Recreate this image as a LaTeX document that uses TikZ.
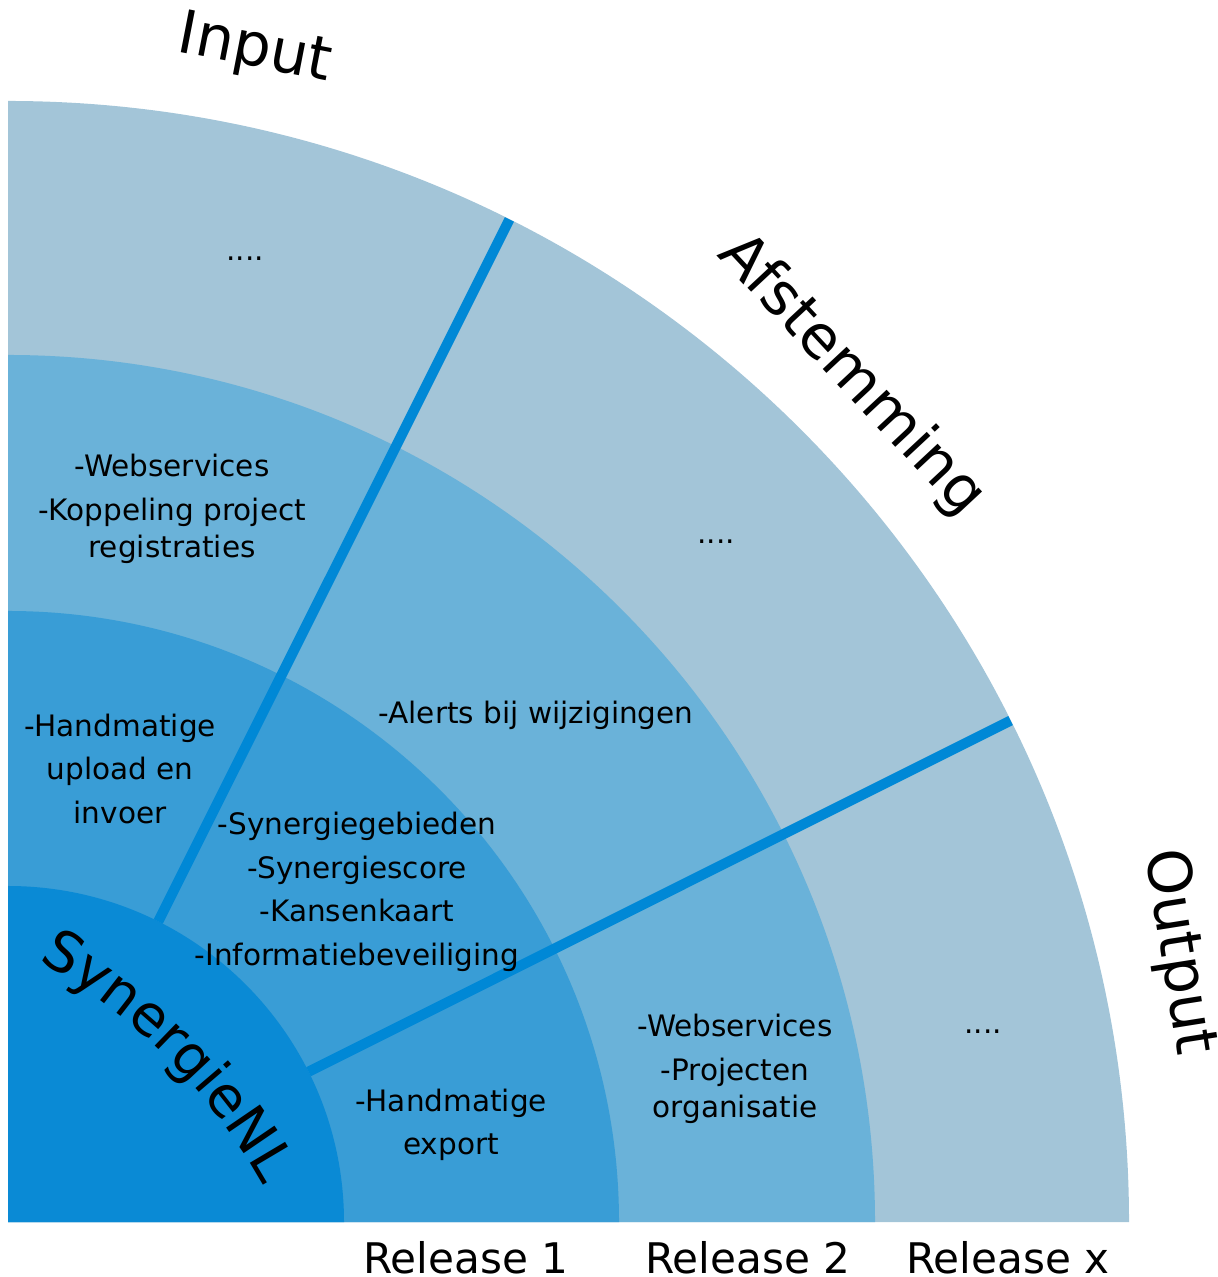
\documentclass[tikz,border=0pt]{standalone}
\usepackage{fontspec}
\setmainfont{DejaVu Sans}
\usepackage{tikz}
\usetikzlibrary{decorations.text}
\definecolor{ringA}{HTML}{0A8AD5}
\definecolor{ringB}{HTML}{399DD6}
\definecolor{ringC}{HTML}{6AB2D9}
\definecolor{ringD}{HTML}{A3C5D8}
\definecolor{lineblue}{HTML}{0088D6}
\tikzset{
  item/.style={align=center, inner sep=0pt, font=\fontsize{8.4}{12.4}\selectfont},
  dots/.style={anchor=base, inner sep=0pt, font=\fontsize{8.4}{10}\selectfont},
  title/.style={inner sep=0pt, font=\fontsize{17}{17}\selectfont},
  release/.style={anchor=base, inner sep=0pt, font=\fontsize{12}{12}\selectfont},
  divider/.style={draw=lineblue, line width=2.9pt},
}

\begin{document}
\begin{tikzpicture}
            \useasboundingbox (-0.08,-0.55) rectangle (12.09,12.22);
            \foreach \r/\c in {11.21/ringD,8.67/ringC,6.11/ringB,3.36/ringA}
            {
            \fill[\c] (0,0) -- (\r,0) arc (0:90:\r) -- cycle;
            }
            \foreach \a in {26.57,63.43}
            {
            \draw[divider] (\a:3.36) -- (\a:11.21);
            }

            % input
            \node[item] (inA) at (1.12,4.53) {-Handmatige\\upload en\\invoer};
            \node[item] (inB) at (1.64,7.13) {-Webservices\\-Koppeling project\\[-1.8pt]registraties};
            \node[dots] (inC) at (2.37,9.61) {....};

            % afstemming
            \node[item] (midA) at (3.49,3.30) {-Synergiegebieden\\-Synergiescore\\-Kansenkaart\\-Informatiebeveiliging};
            \node[item] (midB) at (5.28,5.07) {-Alerts bij wijzigingen};
            \node[dots] (midC) at (7.08,6.78) {....};

            % output
            \node[item] (outA) at (4.43,0.97) {-Handmatige\\export};
            \node[item] (outB) at (7.27,1.53) {-Webservices\\-Projecten\\[-1.8pt]organisatie};
            \node[dots] (outC) at (9.75,1.88) {....};

            \path[decorate, decoration={text along path, text align=center,
              text={|\fontsize{16}{16}\selectfont|SynergieNL}}]
              (-2.53,-2.47) ++(70:5.82) arc (70:20:5.82);

            \node[title, rotate=-11] (input) at (78.1:11.97) {Input};
            \node[title, rotate=-47] (afst) at (45.1:11.95) {Afstemming};
            \node[title, rotate=-81] (output) at (13:12.0) {Output};

            \node[release] (relA) at (4.58,-0.51) {Release 1};
            \node[release] (relB) at (7.40,-0.51) {Release 2};
            \node[release] (relX) at (10.00,-0.51) {Release x};
\end{tikzpicture}
\end{document}
